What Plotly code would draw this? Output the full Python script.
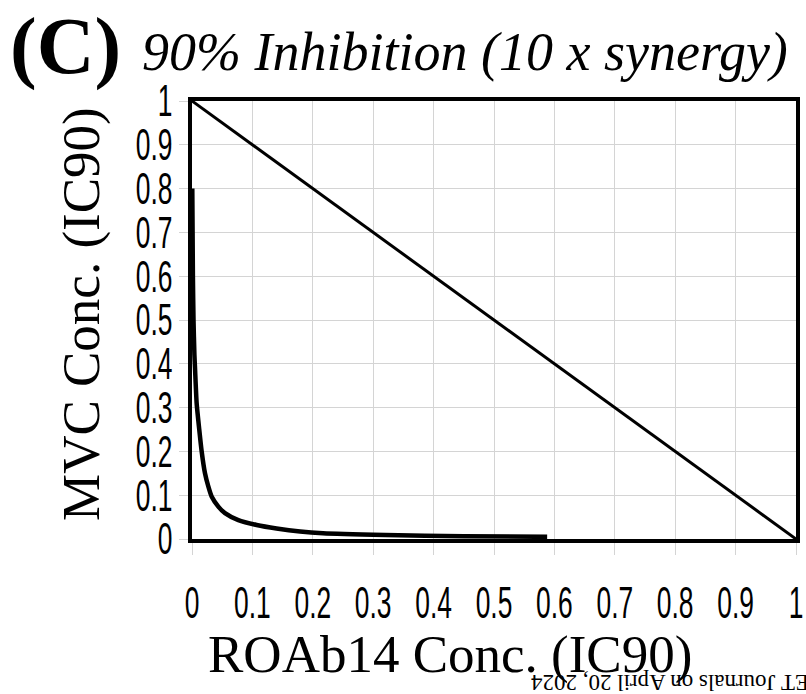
import plotly.graph_objects as go

# Isobologram: ROAb14 vs MVC at 90% inhibition
x_ticks = [0, 0.1, 0.2, 0.3, 0.4, 0.5, 0.6, 0.7, 0.8, 0.9, 1]
y_ticks = [0, 0.1, 0.2, 0.3, 0.4, 0.5, 0.6, 0.7, 0.8, 0.9, 1]

# additivity line
additive_x = [0, 1]
additive_y = [1, 0]

# synergistic isobole (10 x synergy)
synergy_x = [0.0005, 0.001, 0.0015, 0.0025, 0.004, 0.005, 0.0077, 0.012, 0.016,
             0.0215, 0.027, 0.0325, 0.0436, 0.0546, 0.0767, 0.107, 0.14, 0.179,
             0.217, 0.32, 0.45, 0.588]
synergy_y = [0.80, 0.70, 0.60, 0.50, 0.42, 0.39, 0.31, 0.25, 0.20,
             0.15, 0.12, 0.097, 0.074, 0.059, 0.043, 0.032, 0.024, 0.017,
             0.013, 0.009, 0.006, 0.005]

W, H = 806, 694
L, R, T, B = 192, 796, 101, 539


def px(x):
    return (x - L) / (R - L)


def py(y):
    return (B - y) / (B - T)


SERIF = "Liberation Serif, Times New Roman, serif"
SANS = "Liberation Sans, Arial, sans-serif"
GRID = "#d4d4d4"

fig = go.Figure()
fig.add_trace(go.Scatter(x=additive_x, y=additive_y, mode="lines",
                         line=dict(color="black", width=3), showlegend=False))
fig.add_trace(go.Scatter(x=synergy_x, y=synergy_y, mode="lines",
                         line=dict(color="black", width=4.5, shape="spline", smoothing=0.6),
                         showlegend=False))

axis_common = dict(
    range=[0, 1], showgrid=True, gridcolor=GRID, gridwidth=1.3,
    zeroline=False, showline=True, linecolor="black", linewidth=3.5, mirror=True,
    ticks="outside", tickcolor=GRID, tickwidth=1.3, tickangle=0, automargin=False,
    ticklabeloverflow="allow",
    tickfont=dict(family=SANS, size=44, color="black"),
)
fig.update_xaxes(**axis_common, tickvals=x_ticks, ticklen=12, ticklabelstandoff=10)
fig.update_yaxes(**axis_common, tickvals=y_ticks, ticklen=9, ticklabelstandoff=-2)

ann = []
ann.append(dict(text="<b>(C)</b>", x=px(8), y=py(46), xanchor="left", yanchor="middle",
                font=dict(family=SERIF, size=80, color="black")))
ann.append(dict(text="<i>90% Inhibition (10 x synergy)</i>", x=px(140), y=py(52),
                xanchor="left", yanchor="middle",
                font=dict(family=SERIF, size=54, color="black")))
ann.append(dict(text="MVC Conc. (IC90)", x=px(81), y=py(314), textangle=-90,
                xanchor="center", yanchor="middle",
                font=dict(family=SERIF, size=53, color="black")))
ann.append(dict(text="ROAb14 Conc. (IC90)", x=px(450), y=py(654),
                xanchor="center", yanchor="middle",
                font=dict(family=SERIF, size=53, color="black")))
ann.append(dict(text="ET Journals on April 20, 2024", x=px(811), y=py(683), textangle=180,
                xanchor="right", yanchor="middle",
                font=dict(family=SERIF, size=23, color="black")))
for a in ann:
    a.update(xref="paper", yref="paper", showarrow=False)

fig.update_layout(
    width=W, height=H, autosize=False,
    margin=dict(l=L, r=W - R, t=T, b=H - B, pad=0, autoexpand=False),
    paper_bgcolor="white", plot_bgcolor="white",
    annotations=ann,
)

# narrow the tick label glyphs horizontally about their anchor points
condense = """
var gd = document.getElementById('{plot_id}');
gd.querySelectorAll('g.xtick text, g.ytick text').forEach(function(t){
  var bb = t.getBBox();
  var isY = t.parentNode.classList.contains('ytick');
  var ax = isY ? bb.x + bb.width : bb.x + bb.width / 2;
  var tr = t.getAttribute('transform') || '';
  t.setAttribute('transform', tr + ' translate(' + ax + ',0) scale(0.6,1) translate(' + (-ax) + ',0)');
});
"""

fig.write_html("out.html", post_script=condense, config={"responsive": False})
